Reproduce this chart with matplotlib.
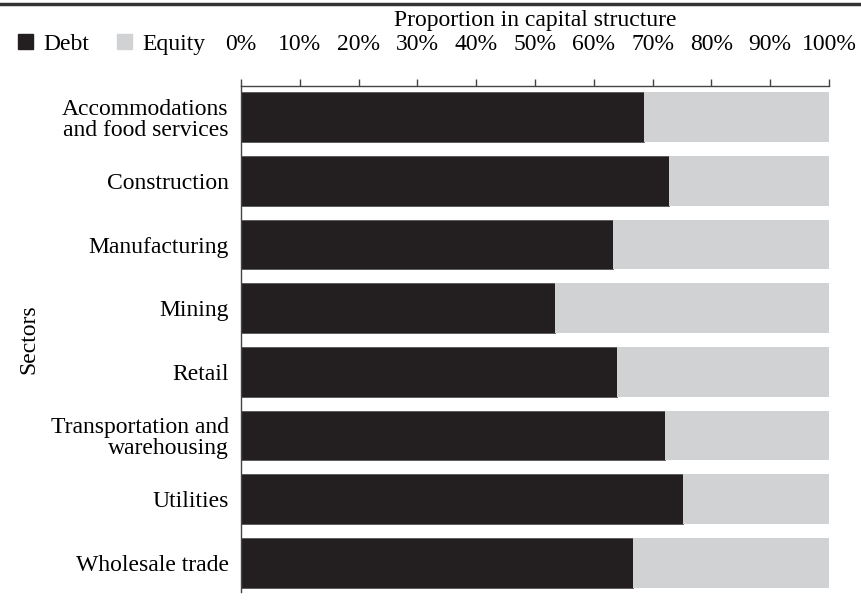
import matplotlib.pyplot as plt
import matplotlib.patches as mpatches
from matplotlib.lines import Line2D

plt.rcParams['font.family'] = ['Liberation Serif', 'DejaVu Serif']

# Данные: доля долга в структуре капитала по секторам (%)
sectors = ['Accommodations\nand food services', 'Construction', 'Manufacturing', 'Mining',
           'Retail', 'Transportation and\nwarehousing', 'Utilities', 'Wholesale trade']
debt = [68.5, 72.8, 63.2, 53.4, 64.0, 72.1, 75.1, 66.6]
equity = [100 - d for d in debt]
ticks = list(range(0, 101, 10))

debt_color = '#231f20'
equity_color = '#d1d2d4'
fs = 17

fig = plt.figure(figsize=(8.62, 6.04), dpi=100)
ax = fig.add_axes([0.2796, 0.0199, 0.682, 0.8377])

y = list(range(len(sectors)))
ax.barh(y, debt, height=0.78, color=debt_color, edgecolor='#555555', linewidth=0.6)
ax.barh(y, equity, left=debt, height=0.78, color=equity_color, linewidth=0)

ax.set_xlim(0, 100)
ax.set_ylim(7.455, -0.49)
ax.set_xticks(ticks)
ax.set_xticklabels([f'{t}%' for t in ticks])
ax.xaxis.tick_top()
ax.xaxis.set_label_position('top')
ax.tick_params(axis='x', direction='out', length=5, width=1, color='#444444',
               labelsize=fs, pad=17)
ax.set_xlabel('Proportion in capital structure', fontsize=fs, labelpad=6)

ax.set_yticks(y)
ax.set_yticklabels(sectors, fontsize=fs, linespacing=1.0)
ax.tick_params(axis='y', length=0, pad=9)
ax.set_ylabel('Sectors', fontsize=fs, labelpad=8)

for s in ['right', 'bottom']:
    ax.spines[s].set_visible(False)
for s in ['top', 'left']:
    ax.spines[s].set_color('#444444')
    ax.spines[s].set_linewidth(1)

# Легенда
handles = [mpatches.Patch(color=debt_color, label='Debt'),
           mpatches.Patch(color=equity_color, label='Equity')]
fig.legend(handles=handles, loc='center left', bbox_to_anchor=(0.021, 0.927),
           ncol=2, frameon=False, fontsize=fs, handlelength=0.64, handleheight=0.64,
           handletextpad=0.42, columnspacing=1.2, borderpad=0, borderaxespad=0)

# Верхняя линия
fig.add_artist(Line2D([0, 1], [0.993, 0.993], transform=fig.transFigure,
                      color='#333333', linewidth=2.5))

plt.savefig('out.png', dpi=100)
